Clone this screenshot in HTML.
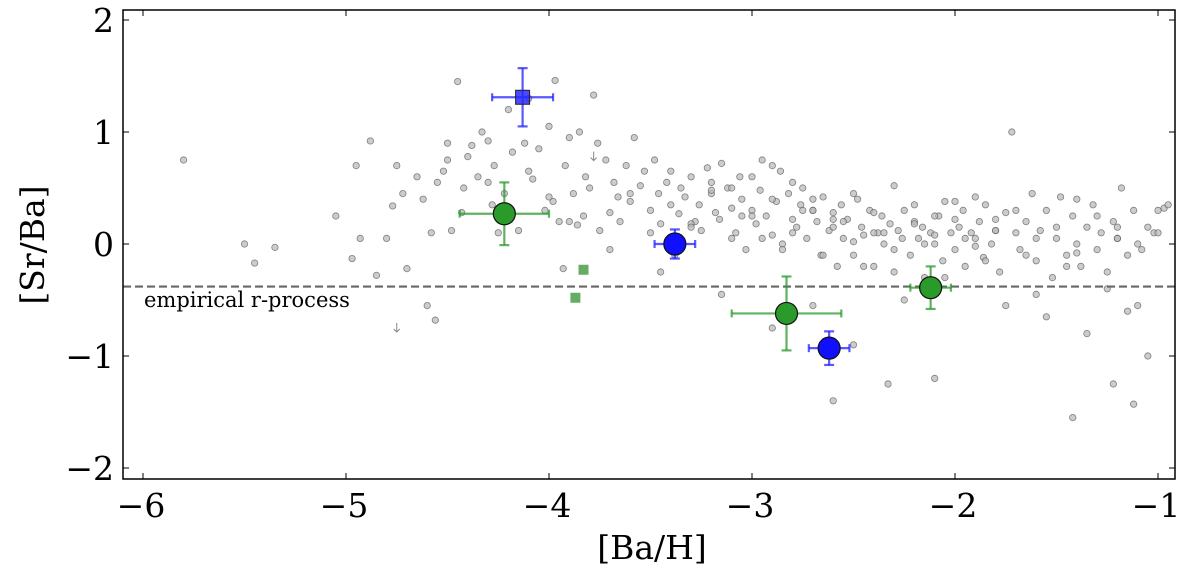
<!DOCTYPE html>
<html><head><meta charset="utf-8"><style>
body{margin:0;background:#fff}
svg text{font-family:"DejaVu Serif","Liberation Serif",serif}
</style></head><body>
<svg id="chart" width="1200" height="569" xmlns="http://www.w3.org/2000/svg">
</svg>
<script>
const bgX=[-5.8,-5.45,-5.5,-5.35,-5.05,-4.97,-4.95,-4.93,-4.88,-4.85,-4.8,-4.77,-4.75,-4.72,-4.7,-4.65,-4.62,-4.6,-4.58,-4.56,-4.55,-4.52,-4.5,-4.48,-4.45,-4.43,-4.42,-4.4,-4.38,-4.35,-4.33,-4.3,-4.28,-4.27,-4.25,-4.22,-4.2,-4.18,-4.15,-4.12,-4.1,-4.08,-4.05,-4.02,-4.0,-3.98,-3.97,-3.95,-3.93,-3.92,-3.9,-3.88,-3.86,-3.85,-3.83,-3.82,-3.8,-3.78,-3.76,-3.75,-3.72,-3.7,-3.68,-3.66,-3.65,-3.62,-3.6,-3.58,-3.55,-3.53,-3.5,-3.48,-3.46,-3.45,-3.42,-3.4,-3.38,-3.36,-3.35,-3.33,-3.3,-3.28,-3.26,-3.25,-3.22,-3.2,-3.18,-3.16,-3.15,-3.12,-3.1,-3.08,-3.06,-3.05,-3.03,-3.0,-2.98,-2.96,-2.95,-2.93,-2.9,-2.88,-2.86,-2.85,-2.82,-2.8,-2.78,-2.76,-2.75,-2.73,-2.7,-2.68,-2.66,-2.65,-2.62,-2.6,-2.58,-2.56,-2.55,-2.53,-2.5,-2.48,-2.46,-2.45,-2.42,-2.4,-2.38,-2.36,-2.35,-2.32,-2.3,-2.28,-2.26,-2.25,-2.22,-2.2,-2.18,-2.16,-2.15,-2.12,-2.1,-2.08,-2.06,-2.05,-2.02,-2.0,-1.98,-1.96,-1.95,-1.92,-1.9,-1.88,-1.86,-1.85,-1.82,-1.8,-1.78,-1.75,-1.72,-1.7,-1.68,-1.65,-1.62,-1.6,-1.58,-1.55,-1.52,-1.5,-1.48,-1.45,-1.42,-1.4,-1.38,-1.35,-1.32,-1.3,-1.28,-1.25,-1.22,-1.2,-1.18,-1.15,-1.12,-1.1,-1.08,-1.05,-1.02,-1.0,-0.97,-0.95,-3.1,-3.0,-2.9,-2.8,-2.7,-2.6,-2.5,-2.4,-2.3,-2.2,-2.1,-2.0,-1.9,-1.8,-1.7,-1.6,-1.5,-1.4,-1.3,-1.2,-1.1,-3.2,-3.3,-3.05,-2.95,-2.85,-2.75,-2.65,-2.55,-2.45,-2.35,-2.25,-2.15,-2.05,-1.95,-1.85,-1.75,-1.65,-1.55,-1.45,-1.35,-1.25,-1.15,-1.05,-2.6,-2.5,-2.33,-2.1,-1.42,-1.22,-1.12,-2.7,-2.9,-3.15,-3.45,-3.7,-3.9,-4.0,-4.1,-4.3,-4.5,-3.6,-3.5,-3.4,-3.3,-3.2,-3.1,-3.0,-2.9,-2.8,-2.7,-2.6,-2.5,-2.4,-2.3,-2.2,-2.1,-2.0,-1.9,-1.8,-1.6,-1.4,-1.2,-1.0];
const bgY=[0.75,-0.17,0.0,-0.03,0.25,-0.13,0.7,0.05,0.92,-0.28,0.05,0.34,0.7,0.45,-0.22,0.6,0.4,-0.55,0.1,-0.68,0.55,0.65,0.75,0.12,1.45,0.28,0.5,0.78,0.88,0.6,1.0,0.92,0.35,0.7,0.1,0.45,1.2,0.82,0.12,0.9,1.3,0.58,0.85,0.3,1.05,0.38,1.46,0.2,-0.22,0.7,0.95,0.45,0.17,1.0,0.25,0.6,0.5,1.33,0.9,0.12,0.75,0.28,0.55,0.42,0.2,0.7,0.38,0.95,0.52,0.65,0.3,0.75,0.45,0.18,0.55,0.65,-0.1,0.27,0.5,0.42,0.6,0.2,0.35,0.12,0.68,0.45,0.28,0.22,0.72,0.5,0.32,0.1,0.6,0.4,-0.05,0.3,0.18,0.48,0.75,0.25,0.08,0.38,0.65,0.0,0.45,0.22,0.15,0.35,0.5,0.05,0.3,0.2,-0.1,0.42,0.12,0.28,-0.2,0.35,0.05,0.22,-0.1,0.4,0.15,0.08,0.3,-0.2,0.1,0.25,0.0,0.18,-0.25,0.12,0.05,0.3,-0.1,0.2,0.05,0.15,-0.3,0.1,0.0,0.25,-0.15,0.38,0.1,-0.05,0.15,0.3,-0.2,0.1,0.05,0.2,-0.12,0.35,0.0,0.12,-0.25,0.28,1.0,0.1,-0.05,0.2,0.45,-0.15,0.12,0.3,-0.3,0.05,0.42,-0.1,0.25,0.0,-0.2,0.15,0.35,-0.05,0.1,-0.25,0.2,0.05,0.5,-0.1,0.3,0.0,-0.05,0.15,0.1,0.3,0.32,0.35,0.5,0.6,0.7,0.55,0.4,0.22,0.45,0.1,0.52,0.35,0.25,0.38,0.42,0.22,0.3,-0.45,0.15,0.4,0.25,0.05,-0.55,0.48,0.18,0.25,0.05,-0.05,0.3,-0.1,0.2,-0.2,0.1,-0.5,0.0,-0.3,0.05,-0.15,-0.55,-0.1,-0.65,-0.2,-0.8,-0.4,-0.6,-1.0,-1.4,-0.9,-1.25,-1.2,-1.55,-1.25,-1.43,-0.55,-0.75,-0.45,-0.25,-0.05,0.2,0.42,0.65,0.55,0.9,0.45,0.1,0.35,0.15,0.55,0.05,0.25,0.4,0.1,0.3,0.15,0.02,0.28,-0.05,0.18,0.08,0.22,-0.02,0.12,0.05,-0.08,0.15,0.1];
const blueX=[-3.38,-2.62], blueY=[0.0,-0.93], blueXe=[0.1,0.1], blueYe=[0.13,0.15];
const greenX=[-4.22,-2.83,-2.12], greenY=[0.27,-0.62,-0.39], greenXe=[0.22,0.27,0.1], greenYe=[0.28,0.33,0.19];
const sqX=[-4.13], sqY=[1.31], sqXe=[0.15], sqYe=[0.26];
const gsqX=[-3.83,-3.87], gsqY=[-0.23,-0.48];
const rLevel=-0.38;
const xTicks=[-6,-5,-4,-3,-2,-1], yTicks=[-2,-1,0,1,2];

const NS="http://www.w3.org/2000/svg", svg=document.getElementById('chart');
const L=123,R=1175,T=10,B=479;
const sx=v=>143+(v+6)*203, sy=v=>244-v*112;
function el(t,a,p){const e=document.createElementNS(NS,t);for(const k in a)e.setAttribute(k,a[k]);(p||svg).appendChild(e);return e;}
for(let i=0;i<bgX.length;i++){const c=el('circle',{cx:sx(bgX[i]),cy:sy(bgY[i]),r:3.2,fill:'#bbb','fill-opacity':0.75,stroke:'#555','stroke-opacity':0.7,'stroke-width':0.8});

}
[[-4.75,-0.75],[-3.78,0.78]].forEach(p=>{el('path',{d:`M${sx(p[0])} ${sy(p[1])-5}v9m-3-3l3 3l3-3`,stroke:'#888',fill:'none','stroke-width':1});});
const dl=el('line',{x1:L,x2:R,y1:sy(rLevel),y2:sy(rLevel),stroke:'#666','stroke-width':2.2,'stroke-dasharray':'8,4'});


const lt=el('text',{x:144,y:307,'font-size':21});lt.textContent='empirical r-process';


gsqX.forEach((x,i)=>{const r=el('rect',{x:sx(x)-5,y:sy(gsqY[i])-5,width:10,height:10,fill:'#4a9e4a','fill-opacity':0.85});

});
function err(x,y,xe,ye,col){const g=el('g',{stroke:col,'stroke-width':2.2,'stroke-opacity':0.75});
el('line',{x1:sx(x-xe),x2:sx(x+xe),y1:sy(y),y2:sy(y)},g);el('line',{x1:sx(x),x2:sx(x),y1:sy(y+ye),y2:sy(y-ye)},g);
el('line',{x1:sx(x-xe),x2:sx(x-xe),y1:sy(y)-4,y2:sy(y)+4},g);el('line',{x1:sx(x+xe),x2:sx(x+xe),y1:sy(y)-4,y2:sy(y)+4},g);
el('line',{x1:sx(x)-5,x2:sx(x)+5,y1:sy(y+ye),y2:sy(y+ye)},g);el('line',{x1:sx(x)-5,x2:sx(x)+5,y1:sy(y-ye),y2:sy(y-ye)},g);}
greenX.forEach((x,i)=>{err(x,greenY[i],greenXe[i],greenYe[i],'#2a9a2a');const c=el('circle',{cx:sx(x),cy:sy(greenY[i]),r:11,fill:'#2a9a2a',stroke:'#111','stroke-width':1.2});

});
blueX.forEach((x,i)=>{err(x,blueY[i],blueXe[i],blueYe[i],'#2222ff');const c=el('circle',{cx:sx(x),cy:sy(blueY[i]),r:11,fill:'#1010ff',stroke:'#111','stroke-width':1.2});

});
sqX.forEach((x,i)=>{err(x,sqY[i],sqXe[i],sqYe[i],'#2222ff');const r=el('rect',{x:sx(x)-7,y:sy(sqY[i])-7,width:14,height:14,fill:'#2a2aff','fill-opacity':0.85,stroke:'#222','stroke-width':1});

});
const fr=el('rect',{x:L,y:T,width:R-L,height:B-T,fill:'none',stroke:'#000','stroke-width':1.5});


xTicks.forEach(v=>{el('line',{x1:sx(v),x2:sx(v),y1:B,y2:B-6,stroke:'#000','stroke-width':1});el('line',{x1:sx(v),x2:sx(v),y1:T,y2:T+6,stroke:'#000','stroke-width':1});
const t=el('text',{x:sx(v)-2,y:517,'font-size':33,'text-anchor':'middle'});t.textContent='\u2212'+Math.abs(v);

});
yTicks.forEach(v=>{el('line',{x1:L,x2:L+6,y1:sy(v),y2:sy(v),stroke:'#000','stroke-width':1});el('line',{x1:R,x2:R-6,y1:sy(v),y2:sy(v),stroke:'#000','stroke-width':1});
const t=el('text',{x:114,y:sy(v)+12,'font-size':33,'text-anchor':'end'});t.textContent=(v<0?'\u2212':'')+Math.abs(v);

});
const xl=el('text',{x:652,y:559,'font-size':33,'text-anchor':'middle'});xl.textContent='[Ba/H]';


const yl=el('text',{x:0,y:0,'font-size':33,'text-anchor':'middle',transform:'translate(44,245) rotate(-90)'});yl.textContent='[Sr/Ba]';


</script>
</body></html>
